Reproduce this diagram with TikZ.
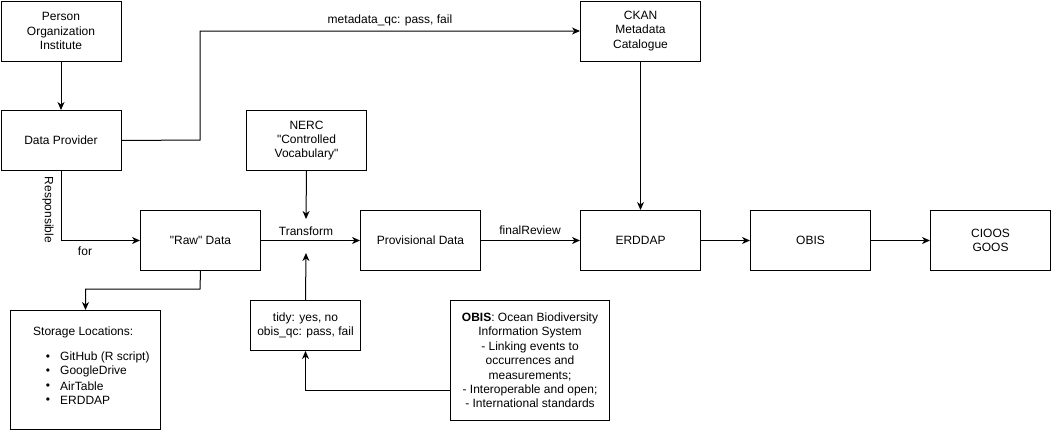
\documentclass[tikz,border=0pt]{standalone}
\usepackage{fontspec}
\setmainfont{Liberation Sans}[Ligatures=TeXOff]
\usetikzlibrary{arrows.meta}
\newcommand{\dq}{\symbol{34}}
\begin{document}
\begin{tikzpicture}[x=1pt,y=-1pt,
  txt/.style={font=\fontsize{12}{14.4}\selectfont},
  box/.style={draw, line width=1pt, minimum width=120pt, minimum height=60pt, align=center, txt, inner sep=0pt, anchor=north west},
  conn/.style={line width=1pt, -{Stealth[length=8pt,width=7pt,inset=2.5pt]}},
  lbl/.style={txt, inner sep=1pt},
]
\useasboundingbox (0,0) rectangle (1051,431);
\node[box] (person) at (0.5,0.5) {Person\\Organization\\Institute};
\node[box] (dp) at (0.5,110) {Data Provider};
\node[box] (raw) at (140,210) {\dq Raw\dq{} Data};
\node[box, minimum width=150pt, minimum height=119pt] (storage) at (10,310) {};
\node[box] (nerc) at (246,110) {NERC\\\dq Controlled\\Vocabulary\dq};
\node[box] (prov) at (360,210) {Provisional Data};
\node[box, minimum width=110pt, minimum height=50pt] (tidy) at (250,300) {tidy: yes, no\\obis\_qc: pass, fail};
\node[box, minimum width=159pt, minimum height=120pt] (obisd) at (450,300) {\textbf{OBIS}: Ocean Biodiversity\\Information System\\- Linking events to\\occurrences and\\measurements;\\- Interoperable and open;\\- International standards};
\node[box] (ckan) at (580,0.5) {CKAN\\Metadata\\Catalogue};
\node[box] (erddap) at (580,210) {ERDDAP};
\node[box] (obis) at (750,210) {OBIS};
\node[box] (cioos) at (930,210) {CIOOS\\GOOS};

% storage contents
\node[lbl, anchor=west] (stitle) at (32,332) {Storage Locations:};
\foreach \t [count=\i] in {GitHub (R script), GoogleDrive, AirTable, ERDDAP}{
  \node[lbl, anchor=center] (b\i) at (48,343+14.4*\i) {\textbullet};
  \node[lbl, anchor=west] (s\i) at (59,343+14.4*\i) {\t};
}

% connectors
\coordinate (tdown) at (306,219);
\coordinate (tup) at (306,253);
\draw[conn] (person) -- (dp);
\draw[conn] (dp.east) -- (200,140) |- (ckan.west);
\node[lbl] (mqc) at (390,20) {metadata\_qc: pass, fail};
\draw[conn] (ckan) -- (erddap);
\draw[conn] (dp.south) |- (raw.west);
\node[lbl, rotate=-90] (resp) at (48,210) {Responsible};
\node[lbl] (for) at (85,251) {for};
\draw[conn] (raw.south) -- (200,289) -| (storage.north);
\draw[conn] (raw) -- (prov);
\node[lbl] (tr) at (306,231) {Transform};
\draw[conn] (nerc.south) -- (tdown);
\draw[conn] (tidy.north) -- (tup);
\draw[conn] (obisd.west |- 0,390) -| (tidy.south);
\draw[conn] (prov) -- (erddap);
\node[lbl] (fr) at (530,230) {finalReview};
\draw[conn] (erddap) -- (obis);
\draw[conn] (obis) -- (cioos);
\end{tikzpicture}
\end{document}
